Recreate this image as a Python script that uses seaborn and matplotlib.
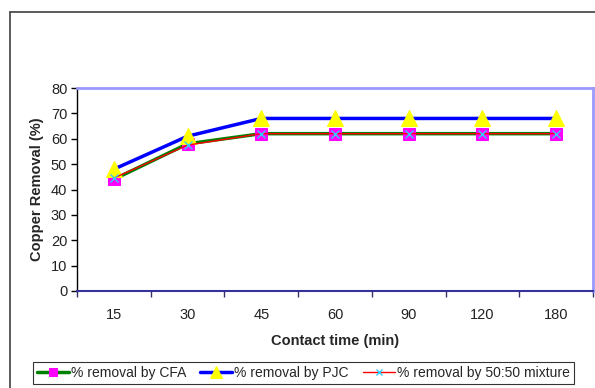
import matplotlib
matplotlib.use("Agg")
import matplotlib.pyplot as plt
import seaborn as sns
import pandas as pd
from matplotlib.lines import Line2D

# Contact time categories and copper removal (%) for each adsorbent
contact_time = ["15", "30", "45", "60", "90", "120", "180"]
removal_cfa = [44, 58, 62, 62, 62, 62, 62]
removal_pjc = [48, 61, 68, 68, 68, 68, 68]
removal_mix = [44.5, 57.5, 62, 62, 62, 62, 62]

df = pd.DataFrame({
    "time": contact_time,
    "CFA": removal_cfa,
    "PJC": removal_pjc,
    "MIX": removal_mix,
})

sns.set_style("white")
plt.rcParams["font.family"] = ["Liberation Sans", "DejaVu Sans"]

FS = 10.5

fig = plt.figure(figsize=(5.95, 3.88), dpi=100)
ax = fig.add_axes([77 / 595, 1 - 291 / 388, 516 / 595, 203 / 388])

sns.lineplot(data=df, x="time", y="CFA", ax=ax, sort=False, color="#008000",
             linewidth=2.5, marker="s", markersize=8.5,
             markerfacecolor="#FF00FF", markeredgecolor="#FF00FF",
             label="% removal by CFA", zorder=3)
sns.lineplot(data=df, x="time", y="PJC", ax=ax, sort=False, color="#0000FF",
             linewidth=2.5, marker="^", markersize=11,
             markerfacecolor="#FFFF00", markeredgecolor="#FFFF00",
             label="% removal by PJC", zorder=4)
sns.lineplot(data=df, x="time", y="MIX", ax=ax, sort=False, color="#FF0000",
             linewidth=1.0, marker="x", markersize=6, markeredgewidth=1.0,
             markerfacecolor="#33CCFF", markeredgecolor="#33CCFF",
             label="% removal by 50:50 mixture", zorder=5)

ax.set_xlim(-0.5, len(contact_time) - 0.5)
ax.set_ylim(0, 80)
ax.set_yticks(range(0, 81, 10))
ax.set_xticks(range(len(contact_time)))
ax.set_xticklabels(contact_time)
ax.set_xticks([i - 0.5 for i in range(len(contact_time) + 1)], minor=True)
ax.tick_params(axis="x", which="major", length=0, pad=12, labelsize=FS,
               labelcolor="#222222")
ax.tick_params(axis="x", which="minor", length=4, width=1, color="#333366",
               direction="out", bottom=True)
ax.tick_params(axis="y", length=4, width=1, color="black", direction="out",
               left=True, pad=3, labelsize=FS, labelcolor="#222222")

for side in ["top", "right"]:
    ax.spines[side].set_color("#9999FF")
    ax.spines[side].set_linewidth(2)
ax.spines["left"].set_color("black")
ax.spines["left"].set_linewidth(1)
ax.spines["bottom"].set_color("#333399")
ax.spines["bottom"].set_linewidth(1.5)

ax.set_xlabel("Contact time (min)", fontsize=FS, fontweight="bold", labelpad=9)
ax.set_ylabel("Copper Removal (%)", fontsize=FS, fontweight="bold", labelpad=5)

ax.legend_.remove()
handles, labels = ax.get_legend_handles_labels()
leg = fig.legend(handles, labels, ncol=3, loc="upper left",
                 bbox_to_anchor=(33 / 595, 1 - 362 / 388),
                 frameon=True, fancybox=False, fontsize=10, markerscale=0.75,
                 handlelength=2.3, handletextpad=0.15, columnspacing=1.0,
                 borderpad=0.3, borderaxespad=0)
leg.get_frame().set_edgecolor("black")
leg.get_frame().set_linewidth(0.8)

# Chart frame around the whole figure area
fig.add_artist(Line2D([10 / 595, 10 / 595], [0, 1 - 12 / 388],
                      color="#404040", linewidth=1.2, transform=fig.transFigure))
fig.add_artist(Line2D([10 / 595, 1], [1 - 12 / 388, 1 - 12 / 388],
                      color="#404040", linewidth=1.2, transform=fig.transFigure))

fig.savefig("out.png", dpi=100)
